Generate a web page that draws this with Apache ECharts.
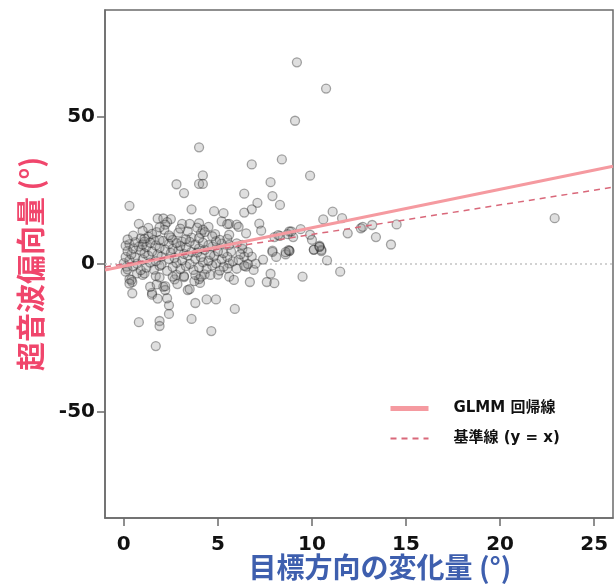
<!DOCTYPE html>
<html>
<head>
<meta charset="utf-8">
<script src="https://cdn.jsdelivr.net/npm/echarts@6/dist/echarts.min.js"></script>
<style>
  html, body { margin: 0; padding: 0; background: #fff; }
  #chart { width: 615px; height: 584px; }
</style>
</head>
<body>
<div id="chart"></div>
<script>
// 散布図の点 [目標方向の変化量, 超音波偏向量]
var scatterPoints = [
  [9.2,68.3],[10.75,59.4],[9.1,48.5],[4.0,39.5],[6.8,33.7],[8.4,35.4],[4.2,30.0],[4.0,27.1],[4.2,27.1],[2.8,27.0],
  [3.2,24.0],[9.9,29.9],[7.8,27.7],[6.4,23.8],[7.9,23.0],[7.1,20.7],[8.3,20.0],[0.3,19.7],[6.8,18.5],[6.4,17.4],
  [3.6,18.5],[4.8,17.9],[5.3,17.2],[10.6,15.1],[11.1,17.7],[11.6,15.5],[11.9,10.4],[0.8,13.6],[1.3,12.2],[1.8,15.4],
  [2.1,15.4],[2.5,15.2],[3.1,13.6],[3.5,13.6],[4.0,13.8],[5.2,14.4],[5.6,13.6],[6.0,13.3],[7.2,13.7],[7.3,11.3],
  [9.4,11.8],[8.8,11.0],[9.0,9.1],[9.9,9.9],[10.0,8.2],[8.0,9.1],[8.3,9.5],[8.8,4.5],[7.9,4.5],[10.1,4.8],
  [10.4,5.9],[10.5,4.8],[10.8,1.2],[11.5,-2.6],[9.5,-4.3],[7.6,-6.1],[8.0,-6.5],[6.7,-6.1],[7.8,-3.3],[6.9,-2.0],
  [6.5,-0.9],[5.9,-15.2],[4.9,-12.0],[4.4,-12.0],[3.8,-13.2],[3.6,-18.6],[4.65,-22.7],[2.4,-16.9],[2.4,-14.0],[2.3,-11.6],
  [1.9,-19.3],[1.9,-21.0],[0.8,-19.7],[1.7,-27.8],[0.45,-9.9],[0.3,-5.1],[0.45,-6.1],[1.5,-9.8],[1.5,-10.4],[1.8,-11.7],
  [1.4,-7.7],[2.1,-7.7],[2.2,-8.8],[2.7,-5.2],[2.85,-6.8],[3.4,-8.8],[3.5,-8.5],[4.05,-6.4],[4.0,-5.1],[5.0,-3.6],
  [5.6,-4.3],[5.85,-5.4],[1.0,-3.7],[0.7,-3.2],[2.8,-3.7],[3.2,-4.4],[4.3,-3.5],
  [7.0,0.1],[6.0,-1.6],[6.4,-0.6],[6.6,0.0],[7.4,1.5],[8.1,2.4],[7.9,4.1],[8.6,3.3],[8.8,4.4],[10.5,4.4],
  [6.8,2.5],[6.4,2.5],[5.6,0.2],[5.5,-1.5],
  [5.5,13.5],[6.1,12.6],[8.9,11.0],[8.7,10.1],[8.2,9.8],[6.5,10.4],[10.4,6.2],[10.1,4.9],[8.75,4.7],[8.6,4.0],
  [6.3,5.1],[6.6,4.0],[5.7,4.2],[5.6,6.5],[6.0,7.0],[6.3,6.5],[5.5,8.5],
  [12.6,12.1],[12.7,12.6],[13.2,13.2],[13.4,9.1],[14.2,6.6],[14.5,13.4],[22.9,15.5],[10.4,5.8],
  [2.3,14.2],[4.5,12.6],[4.2,11.6],[4.1,10.4],[4.3,10.8],[1.75,10.8],[1.3,9.3],[0.9,8.7],[2.2,13.3],[2.15,11.6],
  [2.6,8.2],[3.1,7.6],[3.6,8.9],[4.85,10.1],[0.3,6.7],[0.8,5.9],[1.1,7.6],[1.6,8.2],
  [0.4,-5.4],[0.3,-6.6],[1.75,-6.9],[2.2,-7.5],[2.6,-4.3],[3.2,-4.1],[3.75,-5.8],[4.1,-4.3],[3.8,-3.7],[4.6,-3.7],
  [1.1,-3.2],[1.7,-4.1],[1.9,-4.5],[0.1,-2.6],[0.15,-0.9],
  // 密集部
  [0.2,-1.8],[0.9,-2.1],[1.6,-1.9],[2.3,-2.3],[3.0,-1.7],[3.7,-2.0],[4.4,-1.6],[5.1,-2.2],
  [0.5,-0.8],[1.2,-1.2],[1.9,-0.6],[2.6,-1.0],[3.3,-0.7],[4.0,-1.1],[4.7,-0.5],[5.3,-0.9],
  [0.0,0.3],[0.7,0.1],[1.4,0.5],[2.0,-0.2],[2.8,0.4],[3.5,0.0],[4.2,0.6],[4.9,0.2],[5.8,0.9],
  [0.3,1.2],[1.0,1.5],[1.7,1.0],[2.4,1.7],[3.1,1.3],[3.8,1.8],[4.5,1.1],[5.2,1.6],[6.1,1.4],
  [0.1,2.4],[0.6,2.2],[1.3,2.8],[2.0,2.5],[2.7,2.1],[3.4,2.9],[4.1,2.3],[4.8,2.7],[5.5,2.4],
  [0.4,3.3],[1.1,3.6],[1.8,3.2],[2.5,3.8],[3.2,3.4],[3.9,3.9],[4.6,3.2],[5.3,3.7],[6.2,3.3],
  [0.2,4.4],[0.9,4.7],[1.5,4.2],[2.2,4.9],[2.9,4.5],[3.6,4.1],[4.3,4.8],[5.0,4.3],
  [0.5,5.3],[1.2,5.8],[1.9,5.5],[2.6,5.1],[3.3,5.7],[4.0,5.3],[4.7,5.9],
  [0.1,6.2],[1.0,6.6],[1.7,6.3],[2.4,6.8],[3.0,6.1],[3.8,6.6],[4.5,6.4],[5.2,6.9],
  [0.6,7.4],[1.4,7.2],[2.1,7.8],[2.8,7.1],[3.5,7.5],[4.2,7.2],[4.9,7.7],
  [0.2,8.3],[1.1,8.6],[1.9,8.1],[2.5,9.0],[3.3,8.4],[4.0,8.8],[5.1,8.2],
  [0.5,9.6],[1.5,10.2],[2.4,9.7],[2.9,10.6],[3.4,11.0],[4.7,9.4],[5.6,9.9],[1.0,11.2],[1.9,12.4],[3.0,12.0],[3.9,12.3]
];

// GLMM 回帰線の両端
var glmmLine = [[-1, -2.0], [26, 33.1]];
// 基準線 y = x
var refLine = [[-1, -1], [26, 26]];
// y = 0 の点線
var zeroLine = [[-1, 0], [26, 0]];

var xTicks = [0, 5, 10, 15, 20, 25];
var yTicks = [-50, 0, 50];

var fontFam = 'DejaVu Sans, Noto Sans CJK JP, sans-serif';
var cjkFam = 'Noto Sans CJK JP, sans-serif';

var chart = echarts.init(document.getElementById('chart'));

var option = {
    animation: false,
    backgroundColor: '#fff',
    grid: {
        left: 105,
        right: 2,
        top: 10,
        bottom: 66,
        outerBoundsMode: 'none',
        show: true,
        borderColor: '#6b6b6b',
        borderWidth: 1.5
    },
    legend: {
        data: [
            { name: 'GLMM 回帰線', lineStyle: { width: 5 } },
            { name: '基準線 (y = x)' }
        ],
        orient: 'vertical',
        left: 383,
        top: 396,
        itemWidth: 38,
        itemHeight: 14,
        itemGap: 15,
        itemStyle: { opacity: 0 },
        textStyle: {
            fontFamily: fontFam,
            fontWeight: 'bold',
            fontSize: 15,
            color: '#111',
            padding: [0, 0, 0, 20]
        }
    },
    xAxis: {
        type: 'value',
        min: -1,
        max: 26,
        interval: 5,
        name: '目標方向の変化量 (°)',
        nameLocation: 'middle',
        nameGap: 35,
        nameMoveOverlap: false,
        nameTextStyle: {
            fontFamily: cjkFam,
            fontWeight: 'bold',
            fontSize: 28,
            color: '#3e5fae',
            padding: [0, 0, 0, 42]
        },
        axisLine: { show: true, onZero: false, lineStyle: { color: '#6b6b6b', width: 1.5 } },
        axisTick: {
            show: true,
            length: 8,
            lineStyle: { color: '#6b6b6b', width: 1.5 },
            customValues: xTicks
        },
        axisLabel: {
            fontFamily: fontFam,
            fontWeight: 'bold',
            fontSize: 20,
            color: '#111',
            margin: 17,
            customValues: xTicks
        },
        splitLine: { show: false }
    },
    yAxis: {
        type: 'value',
        min: -86,
        max: 86,
        name: '超音波偏向量 (°)',
        nameLocation: 'middle',
        nameGap: 60,
        nameRotate: 90,
        nameMoveOverlap: false,
        nameTextStyle: {
            fontFamily: cjkFam,
            fontWeight: 'bold',
            fontSize: 29,
            color: '#f0466c'
        },
        axisLine: { show: true, onZero: false, lineStyle: { color: '#6b6b6b', width: 1.5 } },
        axisTick: {
            show: true,
            length: 8,
            lineStyle: { color: '#6b6b6b', width: 1.5 },
            customValues: yTicks
        },
        axisLabel: {
            fontFamily: fontFam,
            fontWeight: 'bold',
            fontSize: 20,
            color: '#111',
            margin: 10,
            customValues: yTicks
        },
        splitLine: { show: false }
    },
    series: [
        {
            name: 'zero',
            type: 'line',
            data: zeroLine,
            showSymbol: false,
            silent: true,
            lineStyle: { color: '#c4c4c4', width: 1.5, type: [2, 3] },
            z: 1
        },
        {
            name: 'points',
            type: 'scatter',
            data: scatterPoints,
            symbol: 'circle',
            symbolSize: 9,
            itemStyle: {
                color: 'rgba(140,140,140,0.35)',
                borderColor: 'rgba(20,20,20,0.45)',
                borderWidth: 1.3
            },
            z: 2
        },
        {
            name: 'GLMM 回帰線',
            type: 'line',
            data: glmmLine,
            showSymbol: false,
            symbol: 'none',
            lineStyle: { color: '#f59aa0', width: 3 },
            itemStyle: { color: '#f59aa0' },
            z: 3
        },
        {
            name: '基準線 (y = x)',
            type: 'line',
            data: refLine,
            showSymbol: false,
            symbol: 'none',
            lineStyle: { color: '#d9687a', width: 1.5, type: [6, 5] },
            itemStyle: { color: '#d9687a' },
            z: 3
        }
    ]
};

chart.setOption(option);
</script>
</body>
</html>
